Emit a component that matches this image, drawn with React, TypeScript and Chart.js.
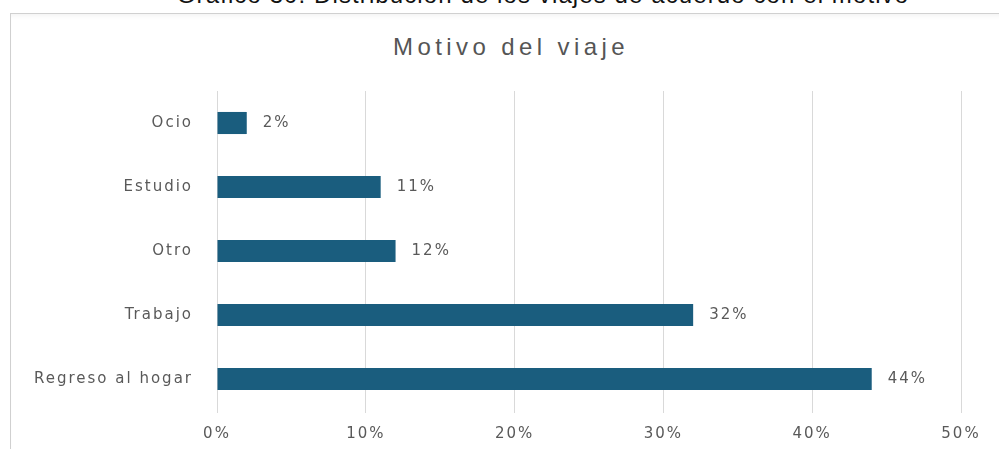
import React, { useEffect, useRef } from "react";
import { Chart, registerables } from "chart.js";

Chart.register(...registerables);

const heading = "Gráfico 30: Distribución de los viajes de acuerdo con el motivo";
const chartTitle = "Motivo del viaje";
const categories = ["Ocio", "Estudio", "Otro", "Trabajo", "Regreso al hogar"];
const values = [2, 11, 12, 32, 44];
const xTicks = [0, 10, 20, 30, 40, 50];

const TEXT = "#595959";
const BAR = "#1a5d7e";
const FONT = "'DejaVu Sans', sans-serif";
const SPACING = "2px";

export default function App() {
  const ref = useRef<HTMLCanvasElement | null>(null);

  useEffect(() => {
    if (!ref.current) return;
    const spacingPlugin = {
      id: "spacing",
      beforeUpdate(chart: any) {
        chart.ctx.letterSpacing = SPACING;
      },
      beforeDraw(chart: any) {
        chart.ctx.letterSpacing = SPACING;
      },
    };
    const labelPlugin = {
      id: "valueLabels",
      afterDatasetsDraw(chart: any) {
        const ctx = chart.ctx;
        const meta = chart.getDatasetMeta(0);
        ctx.save();
        ctx.letterSpacing = SPACING;
        ctx.font = `15px ${FONT}`;
        ctx.fillStyle = TEXT;
        ctx.textAlign = "left";
        ctx.textBaseline = "middle";
        meta.data.forEach((bar: any, i: number) => {
          ctx.fillText(`${values[i]}%`, bar.x + 16, bar.y);
        });
        ctx.restore();
      },
    };
    const chart = new Chart(ref.current, {
      type: "bar",
      data: {
        labels: categories,
        datasets: [
          {
            data: values,
            backgroundColor: BAR,
            barPercentage: 0.345,
            categoryPercentage: 1,
          },
        ],
      },
      options: {
        indexAxis: "y",
        responsive: false,
        animation: false,
        layout: { padding: { top: 91, bottom: 7, left: 0, right: 61 } },
        plugins: {
          legend: { display: false },
          title: { display: false },
          tooltip: { enabled: false },
        },
        scales: {
          x: {
            min: 0,
            max: 50,
            afterBuildTicks(scale: any) {
              scale.ticks = xTicks.map((v) => ({ value: v }));
            },
            ticks: {
              callback: (v: any) => `${v}%`,
              color: TEXT,
              font: { family: FONT, size: 15 },
              padding: 12,
              maxRotation: 0,
            },
            grid: { color: "#d9d9d9", tickLength: 2, drawTicks: true, lineWidth: 1 },
            border: { display: false },
          },
          y: {
            afterFit(scale: any) {
              scale.width = 217;
            },
            ticks: {
              color: TEXT,
              font: { family: FONT, size: 15 },
              padding: 24,
            },
            grid: { display: false, drawTicks: false },
            border: { display: false },
          },
        },
      },
      plugins: [spacingPlugin, labelPlugin],
    });
    return () => chart.destroy();
  }, []);

  return (
    <div
      style={{
        position: "fixed",
        left: 0,
        top: 0,
        width: 999,
        height: 449,
        overflow: "hidden",
        background: "#fff",
      }}
    >
      <div
        style={{
          position: "absolute",
          left: 0,
          width: 1086,
          top: -17,
          textAlign: "center",
          font: "24px 'Liberation Sans', Arial, sans-serif",
          lineHeight: "24px",
          letterSpacing: "1.1px",
          color: "#111",
          whiteSpace: "nowrap",
        }}
      >
        {heading}
      </div>
      <div
        style={{
          position: "absolute",
          left: 10,
          top: 13,
          width: 1010,
          height: 460,
          border: "1px solid #d0d0d0",
          boxShadow: "inset 0 5px 5px -3px rgba(0,0,0,0.05)",
          boxSizing: "border-box",
        }}
      />
      <div
        style={{
          position: "absolute",
          left: 0,
          width: 1022,
          top: 32,
          textAlign: "center",
          font: "24px 'Liberation Sans', sans-serif",
          lineHeight: "30px",
          letterSpacing: "4.4px",
          color: "#555",
          whiteSpace: "nowrap",
        }}
      >
        {chartTitle}
      </div>
      <canvas
        ref={ref}
        width={1022}
        height={462}
        style={{ position: "absolute", left: 0, top: 0, width: 1022, height: 462 }}
      />
    </div>
  );
}
